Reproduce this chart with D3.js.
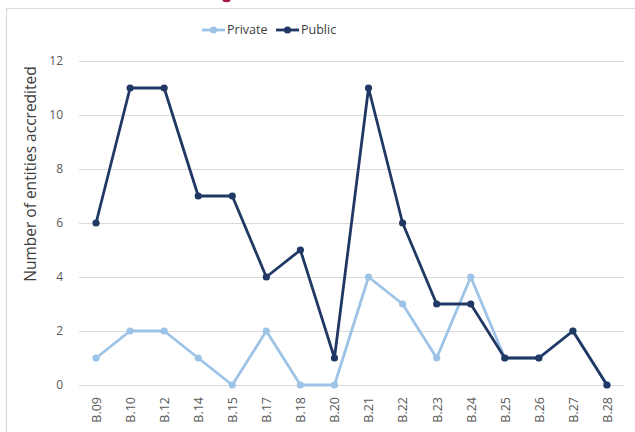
<!DOCTYPE html>
<html>
<head>
<meta charset="utf-8">
<script src="https://cdn.jsdelivr.net/npm/d3@7"></script>
<style>
  html, body { margin: 0; padding: 0; background: #fff; }
  svg { display: block; font-family: "Open Sans", "Noto Sans", sans-serif; }
</style>
</head>
<body>
<svg id="chart" width="635" height="432"></svg>
<script>
// Accreditation rounds
const categories = ["B.09","B.10","B.12","B.14","B.15","B.17","B.18","B.20","B.21","B.22","B.23","B.24","B.25","B.26","B.27","B.28"];
// Number of entities accredited per round
const privateValues = [1,2,2,1,0,2,0,0,4,3,1,4,1,1,2,0];
const publicValues  = [6,11,11,7,7,4,5,1,11,6,3,3,1,1,2,0];
const yTicks = [0,2,4,6,8,10,12];

const series = [
  { name: "Private", values: privateValues, color: "#9dc3e6" },
  { name: "Public",  values: publicValues,  color: "#203864" }
];

const svg = d3.select("#chart");

// chart frame
svg.append("line").attr("x1", 6).attr("x2", 635).attr("y1", 8.5).attr("y2", 8.5)
  .attr("stroke", "#d9d9d9").attr("stroke-width", 1.2);
svg.append("line").attr("x1", 6.5).attr("x2", 6.5).attr("y1", 8).attr("y2", 432)
  .attr("stroke", "#d9d9d9").attr("stroke-width", 1.2);

// lower tip of the heading mark above the frame
svg.append("ellipse").attr("cx", 226.5).attr("cy", 0).attr("rx", 4).attr("ry", 2.2)
  .attr("fill", "#b0174a");

const x = d3.scalePoint().domain(categories).range([79, 624]).padding(0.5);
const y = d3.scaleLinear().domain([0, 12]).range([385, 61]);

// gridlines
svg.append("g").selectAll("line").data(yTicks).join("line")
  .attr("x1", 79).attr("x2", 624)
  .attr("y1", d => Math.round(y(d)) + 0.5).attr("y2", d => Math.round(y(d)) + 0.5)
  .attr("stroke", "#d9d9d9").attr("stroke-width", 1);

// y axis labels
const yAxis = d3.axisLeft(y).tickValues(yTicks).tickSize(0).tickPadding(0);
const gy = svg.append("g").attr("transform", "translate(63,0)").call(yAxis);
gy.select(".domain").remove();
gy.selectAll("text").attr("font-size", 12).attr("fill", "#595959")
  .attr("font-family", "\"Open Sans\", sans-serif");

// x axis labels (rotated)
const xAxis = d3.axisBottom(x).tickSize(0).tickPadding(0);
const gx = svg.append("g").attr("transform", "translate(0,397)").call(xAxis);
gx.select(".domain").remove();
gx.selectAll("text")
  .attr("font-size", 12.5).attr("fill", "#595959")
  .attr("font-family", "\"Open Sans\", sans-serif")
  .attr("transform", "rotate(-90)")
  .attr("text-anchor", "end")
  .attr("dy", "0.35em")
  .attr("x", 0).attr("y", 0);

// y axis title
svg.append("text")
  .attr("transform", "translate(36,174) rotate(-90)")
  .attr("text-anchor", "middle")
  .attr("font-size", 15.5).attr("fill", "#404040")
  .text("Number of entities accredited");

// series lines and markers
const line = d3.line().x((d, i) => x(categories[i])).y(d => y(d));
series.forEach(s => {
  const g = svg.append("g");
  g.append("path").datum(s.values)
    .attr("d", line).attr("fill", "none")
    .attr("stroke", s.color).attr("stroke-width", 2.8)
    .attr("stroke-linejoin", "round");
  g.selectAll("circle").data(s.values).join("circle")
    .attr("cx", (d, i) => x(categories[i])).attr("cy", d => y(d))
    .attr("r", 3.6).attr("fill", s.color);
});

// legend
const legendItems = [
  { s: series[0], x0: 202 },
  { s: series[1], x0: 276 }
];
legendItems.forEach(({ s, x0 }) => {
  const g = svg.append("g").attr("transform", `translate(${x0},30)`);
  g.append("line").attr("x1", 0).attr("x2", 23).attr("y1", 0).attr("y2", 0)
    .attr("stroke", s.color).attr("stroke-width", 2.8);
  g.append("circle").attr("cx", 11.5).attr("cy", 0).attr("r", 3.6).attr("fill", s.color);
  g.append("text").attr("x", 25).attr("y", 0).attr("dy", "0.35em")
    .attr("font-size", 12.5).attr("fill", "#404040").text(s.name);
});
</script>
</body>
</html>
